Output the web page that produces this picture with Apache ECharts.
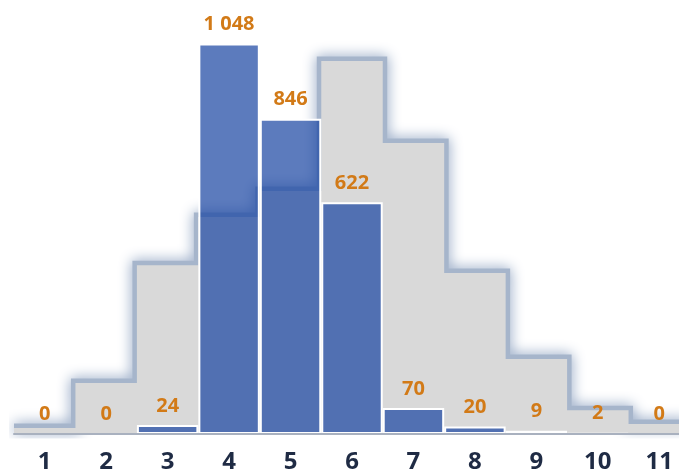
<!DOCTYPE html>
<html>
<head>
<meta charset="utf-8">
<script src="https://cdn.jsdelivr.net/npm/echarts@6/dist/echarts.min.js"></script>
<style>
html,body{margin:0;padding:0;background:#fff;}
#chart{width:679px;height:475px;}
</style>
</head>
<body>
<div id="chart"></div>
<script>
var categories = ['1','2','3','4','5','6','7','8','9','10','11'];
var counts = [0, 0, 24, 1048, 846, 622, 70, 20, 9, 2, 0];
var expectedLevels = [16, 137, 453, 582, 652, 1001, 781, 432, 201, 64, 27];

function fmt(v){
  return String(v).replace(/\B(?=(\d{3})+(?!\d))/g, ' ');
}

// step outline points built from the expected levels (category index +/- half)
var stepData = [];
for (var i = 0; i < expectedLevels.length; i++) {
  stepData.push([i + 0.5, expectedLevels[i]]);
}
stepData.push([expectedLevels.length + 0.5, expectedLevels[expectedLevels.length - 1]]);

var chart = echarts.init(document.getElementById('chart'), null, {renderer:'canvas'});
chart.setOption({
  animation: false,
  backgroundColor: '#ffffff',
  grid: {left: 14, width: 676, top: 24, height: 410, containLabel: false, outerBoundsMode: 'none'},
  xAxis: [{
    type: 'category',
    data: categories,
    boundaryGap: true,
    axisTick: {show: false},
    axisLine: {show: true, lineStyle: {color: '#a9b1bf', width: 2}},
    axisLabel: {
      margin: 16,
      fontFamily: 'Open Sans',
      fontWeight: 'bold',
      fontSize: 24,
      color: '#1f2b44',
      hideOverlap: false
    },
    z: 10
  }, {
    type: 'value',
    min: 0.5,
    max: categories.length + 0.5,
    show: false
  }],
  yAxis: {
    type: 'value',
    min: 0,
    max: 1100,
    show: false,
    splitLine: {show: false}
  },
  series: [{
    name: 'glow',
    type: 'line',
    xAxisIndex: 1,
    data: stepData,
    step: 'end',
    symbol: 'none',
    clip: true,
    silent: true,
    z: 1,
    lineStyle: {
      color: '#a6b5cb',
      width: 9,
      shadowBlur: 14,
      shadowColor: 'rgba(130,152,186,1)',
      join: 'miter'
    }
  }, {
    name: 'area',
    type: 'line',
    xAxisIndex: 1,
    data: stepData,
    step: 'end',
    symbol: 'none',
    clip: true,
    silent: true,
    z: 2,
    lineStyle: {width: 0, opacity: 0},
    areaStyle: {color: '#d9d9d9', opacity: 1}
  }, {
    name: 'count',
    type: 'bar',
    xAxisIndex: 0,
    data: counts,
    barWidth: '100%',
    barCategoryGap: 0,
    z: 3,
    itemStyle: {
      color: 'rgba(23,67,161,0.7)',
      borderColor: '#ffffff',
      borderWidth: 2
    },
    label: {
      show: true,
      position: 'top',
      distance: 9,
      fontFamily: 'Open Sans',
      fontWeight: 'bold',
      fontSize: 20,
      color: '#d27a17',
      formatter: function(p){ return fmt(p.value); }
    }
  }]
});
</script>
</body>
</html>
